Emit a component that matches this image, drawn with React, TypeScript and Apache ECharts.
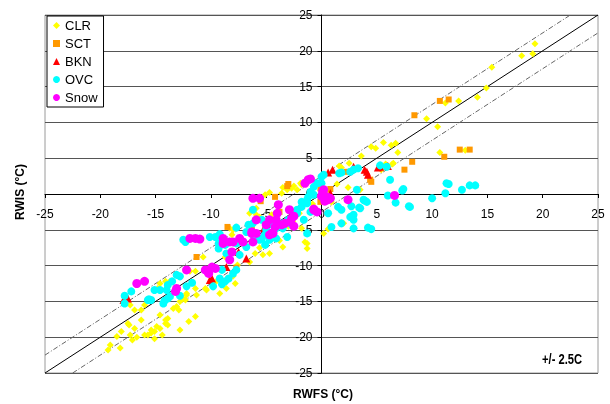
import React, { useEffect, useRef } from "react";
import * as echarts from "echarts";

// RWFS (x) vs RWIS (y), °C
const clrPoints: number[][] = [
  [19.3, 21.0], [18.1, 19.3], [19.1, 19.6], [15.4, 17.7], [14.9, 14.8], [14.1, 13.5], [12.4, 13.0], [11.2, 12.7], [9.5, 10.5], [10.5, 9.4],
  [5.6, 7.2], [6.3, 6.8], [6.7, 7.1], [6.9, 5.8], [10.7, 5.8], [13.0, 6.1], [5.8, 4.2], [6.4, 4.2], [5.4, 3.4],
  [4.9, 6.4], [4.5, 6.6], [3.6, 5.3], [2.5, 4.3], [1.6, 3.9], [1.8, 3.7], [6.5, 4.3], [3.5, 0.6], [1.4, 1.4], [2.0, -4.1], [0.6, -4.9], [0.2, -5.5], [-1.5, -6.7], [-1.3, -6.9],
  [-1.9, 1.5], [-2.5, 1.1], [-3.1, 0.6], [-3.5, 0.9], [-2.7, 0.8], [-2.2, 0.6], [-1.8, 1.3], [-4.7, 0.2], [-5.1, -0.1], [-3.6, 0.1],
  [-4.5, -2.9], [-5.9, -2.9], [-5.6, -3.2], [-5.9, -2.0], [-6.5, -2.7], [-8.3, -4.8], [-8.0, -5.0], [-8.1, -5.7], [-1.8, -4.8], [-1.3, -7.6],
  [-5.3, -8.5], [-4.7, -8.3], [-3.5, -7.4], [-10.7, -8.8], [-8.7, -8.8],
  [-14.1, -12.2], [-13.7, -12.2], [-14.8, -13.2], [-14.6, -12.5], [-13.9, -12.9],
  [-12.8, -15.0], [-12.2, -14.1], [-12.3, -14.8], [-11.9, -10.8], [-11.4, -10.8], [-10.4, -13.4], [-12.9, -16.2], [-13.4, -16.0], [-13.9, -17.4],
  [-14.1, -18.1], [-14.6, -18.8], [-14.9, -18.5], [-15.1, -19.2], [-15.4, -19.4], [-15.7, -19.7], [-16.0, -19.7], [-16.3, -17.6], [-16.9, -18.8],
  [-17.3, -19.7], [-18.1, -19.2], [-18.5, -19.9], [-19.1, -21.1], [-18.2, -21.5], [-15.1, -20.2], [-12.8, -19.0], [-12.0, -17.8], [-11.4, -17.1],
  [-11.3, -14.1], [-17.3, -15.5], [-16.9, -16.2], [-19.3, -21.8], [-17.4, -18.3], [-17.1, -20.4], [-16.7, -20.0], [-14.6, -16.9], [-16.3, -16.2],
  [-16.0, -15.5], [-12.5, -14.6], [-12.2, -13.9], [-11.4, -13.2], [-10.5, -13.2], [-13.9, -18.3], [-14.4, -19.7], [-15.4, -19.0], [-13.1, -15.7],
  [-14.1, -17.6], [-17.5, -18.1], [-8.0, -11.5], [-8.6, -13.2], [-7.8, -12.5], [-9.2, -13.9], [-9.5, -12.2],
  [-7.6, -9.9], [-6.5, -9.5], [-6.0, -8.3], [-5.6, -7.5], [-4.8, -6.2], [-3.8, -6.5], [-3.0, -4.5], [-2.6, -3.8], [-2.0, -2.7],
  [-0.8, -1.4], [0.4, 0.2], [0.9, -1.1], [2.4, 0.9],
];

const sctPoints: number[][] = [
  [10.7, 13.0], [11.5, 13.2], [8.4, 11.0], [12.5, 6.2], [13.4, 6.2], [11.1, 5.2], [8.2, 4.5], [7.5, 3.4], [4.4, 2.0], [2.3, 3.1], [4.5, 1.7],
  [-3.0, 1.4], [-4.2, -0.4], [-5.5, -1.0], [-0.1, 0.8], [-0.1, -1.1], [0.8, 0.7], [-3.8, -2.5], [-8.5, -4.6], [-11.3, -8.8], [-6.3, -5.0],
  [-7.7, -10.3], [-3.1, 1.1],
];

const bknPoints: number[][] = [
  [0.6, 3.0], [1.0, 3.4], [2.9, 3.8], [3.9, 3.4], [4.1, 3.1], [4.2, 2.7], [5.3, 3.8], [6.0, 3.9], [5.1, 3.7], [0.5, -0.6], [0.8, 0.1],
  [-5.2, -4.8], [-17.5, -14.6], [-17.9, -14.8], [-9.9, -11.8], [-8.6, -10.2], [-6.8, -9.0], [-7.5, -8.1], [-10.1, -12.0],
];

const ovcPoints: number[][] = [
  [6.2, 2.0], [11.5, 1.4], [13.4, 1.2], [13.9, 1.2], [12.7, 0.6], [11.2, 0.1], [10.0, -0.6], [7.4, 0.7], [7.3, 0.5], [6.0, -0.2], [6.7, -1.2],
  [7.9, -1.7], [2.7, -1.7], [3.4, -1.9], [3.9, -0.9], [2.9, -2.9], [2.9, -3.6], [0.9, -4.6], [2.9, -4.8], [4.2, -4.7], [4.5, -4.9], [-1.3, -5.5],
  [0.0, 2.4], [1.6, 2.9], [1.8, 3.0], [3.2, 0.6], [5.9, 3.8], [5.3, 4.0], [11.3, 1.5], [8.0, -1.8], [3.8, -0.8], [3.5, -2.0], [1.5, -1.8],
  [0.6, -2.7], [0.2, 2.7], [0.0, 1.5], [-0.7, -0.1], [2.9, 3.4], [3.3, 3.6], [2.6, 3.1], [4.1, -1.1], [2.6, -3.2], [1.8, -2.2], [1.8, -4.1],
  [-2.2, -2.2], [-1.8, -1.8], [-1.3, -1.3], [-1.6, -3.6], [-1.0, -2.5], [-2.8, -3.6], [-3.5, -4.8], [-4.1, -4.8], [-1.8, -1.1], [-1.3, -0.8],
  [-1.2, -0.4], [-1.0, 0.3], [-0.7, 1.0], [-0.4, 1.5], [-2.2, -2.7], [-3.1, -6.0],
  [-12.5, -6.4], [-12.3, -6.7], [-10.1, -6.0], [-9.6, -6.0], [-9.3, -6.9], [-9.2, -5.6], [-7.7, -4.7], [-6.6, -4.3], [-6.2, -4.1], [-6.8, -5.3],
  [-6.2, -5.7], [-5.9, -6.2], [-5.4, -6.2], [-5.1, -5.7], [-5.0, -5.0], [-4.4, -4.3], [-4.1, -4.3], [-3.5, -4.1], [-3.0, -3.6], [-2.7, -4.3],
  [-8.7, -7.1], [-8.1, -6.7], [-8.6, -8.3], [-7.7, -6.9], [-7.4, -8.5], [-6.8, -7.4], [-6.0, -6.4], [-5.6, -6.4], [-5.1, -7.1], [-4.7, -6.4],
  [-4.1, -6.2], [-9.3, -7.6], [-6.2, -2.2], [-5.4, -3.6],
  [-13.1, -11.3], [-12.8, -11.5], [-13.5, -12.2], [-13.9, -12.7], [-14.0, -13.4], [-14.6, -13.4], [-15.1, -13.4], [-15.4, -14.8], [-15.7, -14.8],
  [-17.2, -13.6], [-17.8, -15.3], [-9.0, -10.6], [-9.2, -11.8], [-8.7, -12.2], [-8.4, -11.8], [-8.0, -11.1], [-7.7, -10.6], [-9.8, -12.9],
  [-9.0, -12.6], [-12.2, -12.9], [-11.7, -12.4], [-12.8, -14.2], [-14.3, -15.3], [-14.2, -14.9], [-13.9, -14.6], [-13.7, -14.3], [-15.6, -14.7],
  [-17.8, -14.2],
];

const snowPoints: number[][] = [
  [-1.0, 2.1], [-1.5, 1.5], [-1.2, 2.0], [0.2, 0.6], [0.5, -0.4], [0.6, -0.8], [0.3, -1.0], [0.8, -0.6], [0.0, -0.3], [0.1, 0.3], [2.4, -0.8],
  [-0.7, -2.2], [-0.4, -2.5], [6.6, -0.2], [-4.7, -3.6], [-4.1, -3.6], [-3.3, -4.1], [-2.5, -3.1], [-2.7, -3.4], [-2.5, -4.5], [-4.4, -5.4],
  [-4.2, -4.6], [-6.2, -0.6], [-5.6, -0.6], [-4.0, -2.7], [-3.9, -1.5], [-5.9, -3.6], [-7.4, -6.2], [-6.3, -5.3], [-8.3, -6.7], [-8.9, -6.2],
  [-11.9, -6.2], [-11.4, -6.2], [-11.0, -6.3], [-16.0, -12.2], [-16.7, -12.5], [-13.1, -13.2], [-13.2, -13.6], [-12.2, -10.6], [-10.5, -10.6],
  [-10.3, -10.8], [-10.2, -11.1], [-9.6, -10.4], [-9.9, -10.2], [-8.3, -9.2], [-8.1, -8.1], [-8.9, -6.9], [-8.0, -6.7], [-7.1, -6.7], [-6.3, -5.5],
  [-5.9, -5.5], [-6.2, -6.7], [-4.7, -5.7], [-4.4, -5.5], [-5.0, -4.3], [-3.6, -4.3], [-4.5, -5.5], [-2.8, -3.9], [-0.7, -2.1], [-2.9, -2.2],
];

const seriesNames = ["CLR", "SCT", "BKN", "OVC", "Snow"];
const axisMin = -25;
const axisMax = 25;
const axisStep = 5;
const band = 2.5;
const xTitle = "RWFS (°C)";
const yTitle = "RWIS (°C)";
const bandNote = "+/- 2.5C";

const GRID = { left: 45, right: 12, top: 15, bottom: 31 };
const W = 610;
const H = 404;

export default function App() {
  const ref = useRef<HTMLDivElement>(null);
  useEffect(() => {
    document.body.style.margin = "0";
    const chart = echarts.init(ref.current!, null, { renderer: "svg" });
    const font = "Arial, 'Liberation Sans', sans-serif";
    const gridW = W - GRID.left - GRID.right;
    const gridH = H - GRID.top - GRID.bottom;
    // place each axis on the other's zero (zero sits at the middle of a symmetric range)
    const xOffset = -gridH * ((0 - axisMin) / (axisMax - axisMin));
    const yOffset = -gridW * ((0 - axisMin) / (axisMax - axisMin));
    const scatter = (name: string, data: number[][], symbol: string, size: number, color: string, z: number) => ({
      name,
      type: "scatter",
      data,
      symbol,
      symbolSize: size,
      itemStyle: { color, opacity: 1 },
      z,
    });
    const refLine = (data: number[][], color: string, type: any) => ({
      type: "line",
      data,
      symbol: "none",
      silent: true,
      lineStyle: { color, width: 1, type },
      z: 2,
    });
    chart.setOption({
      animation: false,
      grid: { ...GRID, show: true, borderColor: "#9a9a9a", borderWidth: 1 },
      xAxis: {
        type: "value",
        position: "bottom",
        offset: xOffset,
        min: axisMin,
        max: axisMax,
        interval: axisStep,
        axisLine: { onZero: false, lineStyle: { color: "#000", width: 1 } },
        axisTick: { show: true, length: 4, lineStyle: { color: "#000" } },
        axisLabel: { color: "#000", fontSize: 12, margin: 14, fontFamily: font, showMinLabel: true, showMaxLabel: true },
        splitLine: { show: false },
      },
      yAxis: {
        type: "value",
        position: "left",
        offset: yOffset,
        min: axisMin,
        max: axisMax,
        interval: axisStep,
        axisLine: { onZero: false, lineStyle: { color: "#000", width: 1 } },
        axisTick: { show: true, length: 4, lineStyle: { color: "#000" } },
        axisLabel: { color: "#000", fontSize: 12, margin: 9, fontFamily: font, showMinLabel: true, showMaxLabel: true },
        splitLine: { show: true, lineStyle: { color: "#555", width: 1 } },
      },
      legend: {
        data: seriesNames,
        orient: "vertical",
        left: 47,
        top: 16,
        padding: [3, 6, 3, 6],
        itemGap: 5,
        itemWidth: 7,
        itemHeight: 7,
        textStyle: { fontSize: 13, fontFamily: font, color: "#000" },
        borderColor: "#000",
        borderWidth: 1,
        backgroundColor: "#fff",
      },
      series: [
        refLine([[axisMin, axisMin], [axisMax, axisMax]], "#000", "solid"),
        refLine([[axisMin, axisMin + band], [axisMax - band, axisMax]], "#666", [5, 2, 1, 2]),
        refLine([[axisMin + band, axisMin], [axisMax, axisMax - band]], "#666", [5, 2, 1, 2]),
        scatter("CLR", clrPoints, "diamond", 7, "#ffff00", 3),
        scatter("SCT", sctPoints, "rect", 6, "#ff9900", 4),
        scatter("BKN", bknPoints, "triangle", 8, "#ff0000", 5),
        scatter("OVC", ovcPoints, "circle", 8, "#00ffff", 6),
        scatter("Snow", snowPoints, "circle", 9, "#ff00ff", 7),
      ],
      graphic: [
        {
          type: "text",
          x: 20,
          y: 192,
          rotation: Math.PI / 2,
          style: { text: yTitle, font: "bold 12px Arial, 'Liberation Sans', sans-serif", fill: "#000", textAlign: "center", textVerticalAlign: "middle" },
        },
        {
          type: "text",
          x: 323,
          y: 394,
          style: { text: xTitle, font: "bold 12px Arial, 'Liberation Sans', sans-serif", fill: "#000", textAlign: "center", textVerticalAlign: "middle" },
        },
        {
          type: "text",
          x: 542,
          y: 360,
          scaleX: 0.8,
          style: { text: bandNote, font: "bold 14px 'Liberation Sans Narrow', 'Arial Narrow', sans-serif", fill: "#000", textAlign: "left", textVerticalAlign: "middle" },
        },
      ],
    });
    return () => chart.dispose();
  }, []);
  return <div ref={ref} style={{ position: "fixed", left: 0, top: 0, width: W, height: H }} />;
}
